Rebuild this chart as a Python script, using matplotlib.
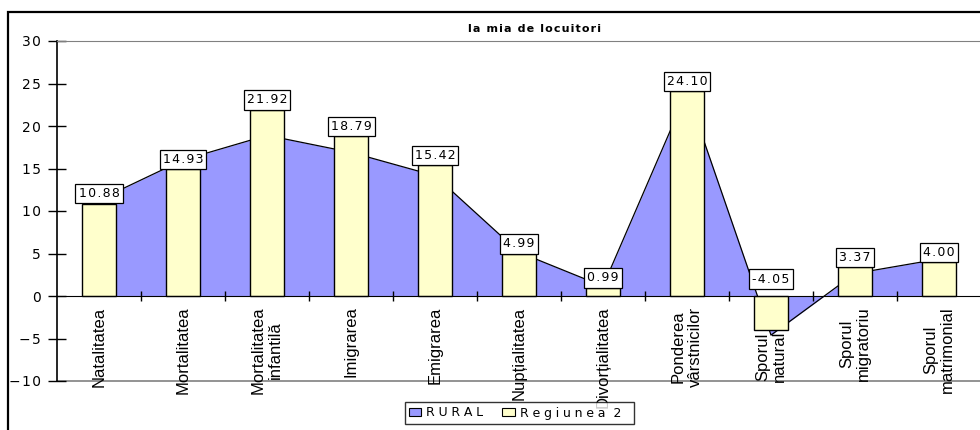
import numpy as np
import matplotlib
matplotlib.use('Agg')
import matplotlib.pyplot as plt
from matplotlib.patches import Rectangle, Patch

# categories and values
categories = ['Natalitatea', 'Mortalitatea', 'Mortalitatea\ninfantilă', 'Imigrarea',
              'Emigrarea', 'Nupțialitatea', 'Divorțialitatea', 'Ponderea\nvârstnicilor',
              'Sporul\nnatural', 'Sporul\nmigratoriu', 'Sporul\nmatrimonial']
rural = [11.3, 16.0, 18.9, 16.9, 14.15, 5.15, 1.15, 24.0, -4.6, 2.65, 4.35]
regiunea2 = [10.88, 14.93, 21.92, 18.79, 15.42, 4.99, 0.99, 24.10, -4.05, 3.37, 4.00]
yticks = [-10, -5, 0, 5, 10, 15, 20, 25, 30]
title = 'la mia de locuitori'

HS = '\u200a'   # hair space, to imitate the wide letter spacing


def spaced(s, sep=HS):
    return sep.join(s)


W, H = 980, 430
fig = plt.figure(figsize=(W / 100, H / 100), dpi=100)
ax = fig.add_axes([57 / W, 49 / H, 924 / W, 340 / H])

x = np.arange(len(categories))
n = len(categories)

# area series
ax.fill_between(x, rural, 0, color='#9999FF', lw=0, zorder=1)
ax.plot(x, rural, color='black', lw=0.9, zorder=2)

# bars
ax.bar(x, regiunea2, width=0.41, color='#FFFFCC', edgecolor='black', lw=1, zorder=3)

# data labels
for i, v in enumerate(regiunea2):
    off = 2.3 if v > 0 else 7.5
    ax.annotate(spaced(f'{v:.2f}'), (i, max(v, 0)), xytext=(0, off),
                textcoords='offset points', ha='center', va='bottom',
                fontsize=9, family='DejaVu Sans', zorder=5,
                bbox=dict(boxstyle='square,pad=0.25', fc='white', ec='black', lw=0.9))

# category labels, pushed below negative bars like Excel does
for i, (lab, v) in enumerate(zip(categories, regiunea2)):
    off = -7.5 if v >= 0 else -0.5
    ax.annotate(lab, (i, min(v, 0)), xytext=(0, off), textcoords='offset points',
                rotation=90, ha='center', va='top', multialignment='center',
                fontsize=12, family='Liberation Sans', linespacing=1.15,
                zorder=6, annotation_clip=False)

ax.set_xlim(-0.5, n - 0.5)
ax.set_ylim(-10, 30)

# axes styling
ax.spines['right'].set_visible(False)
ax.spines['top'].set_color('#808080')
ax.spines['left'].set_color('black')
ax.spines['left'].set_linewidth(1.2)
ax.spines['bottom'].set_position(('data', 0))
ax.spines['bottom'].set_color('black')
ax.spines['bottom'].set_zorder(4)
ax.axhline(-10, color='#808080', lw=1.2, zorder=0, clip_on=False)

ax.set_yticks(yticks)
ax.set_yticklabels([spaced(f'{t}'.replace('-', '\u2212')) for t in yticks],
                   fontsize=10, family='DejaVu Sans')
ax.tick_params(axis='y', direction='inout', length=13, width=1, pad=5)

ax.set_xticks(x[:-1] + 0.5)
ax.set_xticklabels([])
ax.tick_params(axis='x', which='major', direction='inout', length=7, width=1)

# title
fig.text(534 / W, 1 - 29 / H, spaced(title), fontsize=8, fontweight='bold',
         ha='center', va='center', family='DejaVu Sans')

# legend
lsep = '\u2009\u200a'
handles = [Patch(fc='#9999FF', ec='black', lw=0.8), Patch(fc='#FFFFCC', ec='black', lw=0.8)]
leg = fig.legend(handles, [spaced('RURAL', lsep), spaced('Regiunea', lsep) + '  2  '],
                 loc='center', bbox_to_anchor=(519 / W, 17 / H), ncol=2,
                 frameon=True, fancybox=False, edgecolor='black',
                 handlelength=1.0, handleheight=0.65, handletextpad=0.4,
                 columnspacing=1.5, borderpad=0.35, borderaxespad=0,
                 prop={'family': 'DejaVu Sans', 'size': 9})
leg.get_frame().set_linewidth(1)

# outer frame
fig.patches.append(Rectangle((8 / W, -0.1), 1.2, 1.1 - 12 / H, transform=fig.transFigure,
                             fill=False, ec='black', lw=1.6))

fig.savefig('out.png', dpi=100)
